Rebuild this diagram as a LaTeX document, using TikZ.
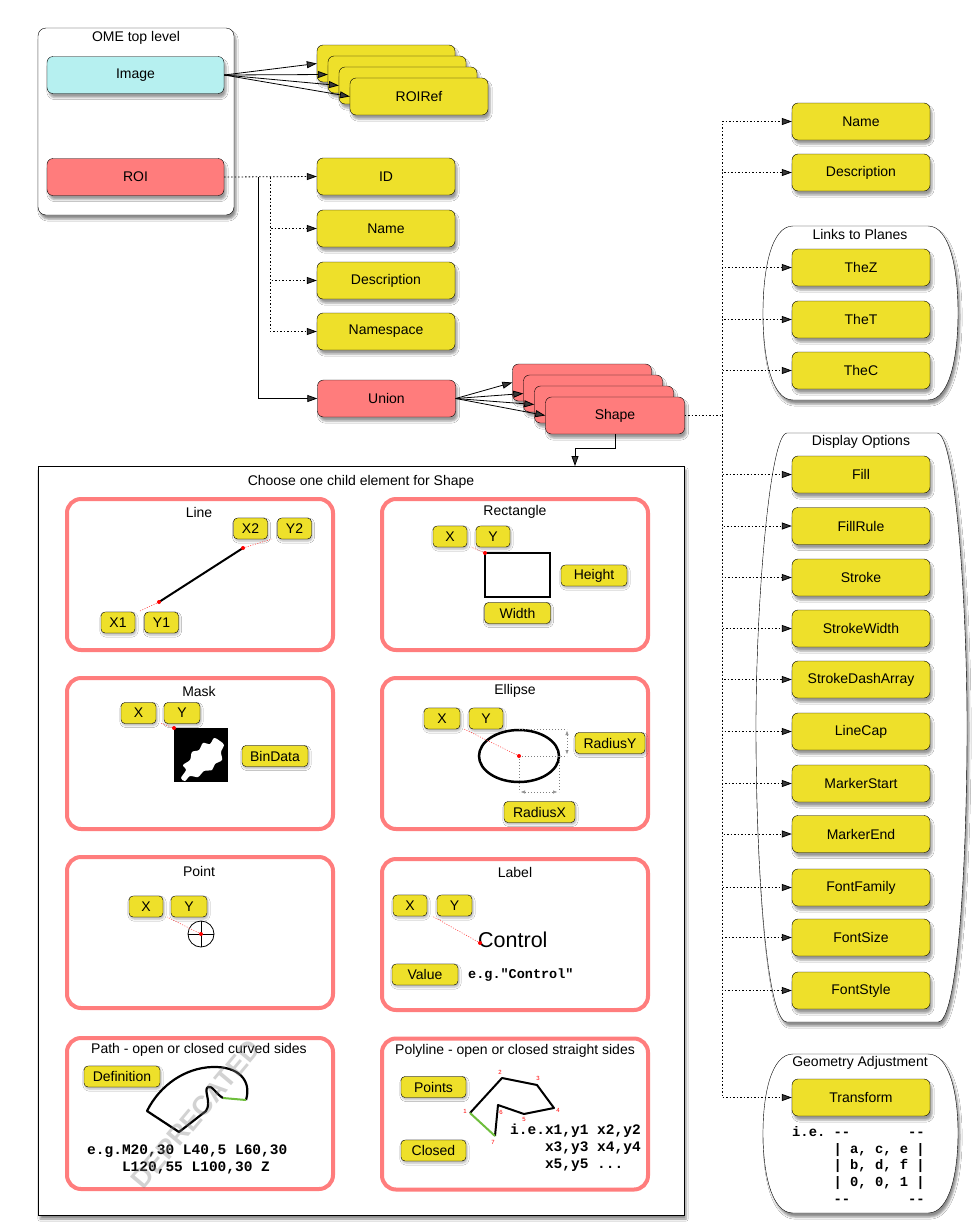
\documentclass[tikz,border=0pt]{standalone}
\usepackage{fontspec}
\setmainfont{Liberation Sans}
\setmonofont{Liberation Mono}
\usetikzlibrary{arrows.meta,shadows.blur}

\definecolor{omeYellow}{RGB}{238,224,42}
\definecolor{omeRed}{RGB}{255,124,124}
\definecolor{omeCyan}{RGB}{182,240,240}
\definecolor{panelRed}{RGB}{255,125,125}
\definecolor{pickRed}{RGB}{255,70,70}
\definecolor{okGreen}{RGB}{110,190,60}

\begin{document}
\begin{tikzpicture}[x=1pt, y=-1pt,
    elem/.style={rectangle, draw, rounded corners=6pt, minimum width=138pt, minimum height=37pt, inner sep=0pt, fill=omeYellow, font=\fontsize{14}{16}\selectfont, blur shadow={shadow xshift=2pt, shadow yshift=-4pt, shadow opacity=40}},
    complex/.style={elem, fill=omeRed},
    topimg/.style={elem, fill=omeCyan, minimum width=177pt},
    attr/.style={rectangle, draw, rounded corners=4pt, minimum width=34pt, minimum height=21pt, inner sep=0pt, fill=omeYellow, font=\fontsize{14}{16}\selectfont, blur shadow={shadow xshift=1pt, shadow yshift=-2pt, shadow opacity=30}},
    panel/.style={rectangle, draw=panelRed, line width=4pt, rounded corners=14pt, minimum width=266pt, minimum height=151pt, fill=white},
    group/.style={rectangle, draw, rounded corners=8pt, inner sep=0pt, fill=white, blur shadow={shadow xshift=2pt, shadow yshift=-4pt, shadow opacity=45}},
    grouptitle/.style={font=\fontsize{14}{16}\selectfont, inner sep=0pt},
    code/.style={align=left, inner sep=0pt, font=\fontsize{14.5}{17}\selectfont\ttfamily\bfseries},
    numlab/.style={text=red, inner sep=0pt, font=\fontsize{6}{7}\selectfont},
    arrow/.style={-{Triangle[length=10pt,width=7pt]}, line width=0.8pt},
    dotline/.style={line width=0.9pt, dash pattern=on 1.5pt off 2pt},
    dotarrow/.style={arrow, dash pattern=on 1.5pt off 2pt},
    pick/.style={draw=pickRed, line width=0.6pt, dash pattern=on 1pt off 1.5pt},
    dimline/.style={gray, line width=0.6pt, dash pattern=on 1pt off 2pt},
    dimtips/.style={{Triangle[open,length=4pt,width=3pt]}-{Triangle[open,length=4pt,width=3pt]}}
]
\fill[white] (0,0) rectangle (979,1232);
\useasboundingbox (0,0) rectangle (979,1232);

% OME top level
\node[group, minimum width=196pt, minimum height=187pt] (ome) at (136,121.5) {};
\node[grouptitle] (omeTitle) at (136,38) {OME top level};
\node[topimg] (image) at (135.5,75) {Image};
\node[complex, minimum width=177pt] (roi) at (135.5,177) {ROI};

% ROIRef stack
\node[elem] (roiref1) at (386,63.5) {};
\node[elem] (roiref2) at (397,74.5) {};
\node[elem] (roiref3) at (408,85.5) {};
\node[elem] (roiref4) at (419,96.5) {ROIRef};

% ROI children
\node[elem] (roiid) at (386,176.5) {ID};
\node[elem] (roiname) at (386,228.5) {Name};
\node[elem] (roidesc) at (386,280.5) {Description};
\node[elem] (roins) at (386,331.5) {Namespace};
\node[complex] (union) at (386.5,398.5) {Union};

% Shape stack
\node[complex, minimum width=139pt] (shape1) at (582,382.5) {};
\node[complex, minimum width=139pt] (shape2) at (593,393.5) {};
\node[complex, minimum width=139pt] (shape3) at (604,404.5) {};
\node[complex, minimum width=139pt] (shape4) at (615,415.5) {Shape};

% Right column groups
\draw[fill=white, blur shadow={shadow xshift=2pt, shadow yshift=-4pt, shadow opacity=45}] (793,226) -- (928,226) .. controls (950,226) and (958,270) .. (958,313) .. controls (958,356) and (950,400) .. (928,400) -- (793,400) .. controls (771,400) and (763,356) .. (763,313) .. controls (763,270) and (771,226) .. (793,226) -- cycle;
\node[grouptitle] (planesTitle) at (860,234) {Links to Planes};
\draw[fill=white, blur shadow={shadow xshift=2pt, shadow yshift=-4pt, shadow opacity=45}] (787,433) -- (937,433) .. controls (955,433) and (967,600) .. (967,727) .. controls (967,860) and (958,1022) .. (938,1022) -- (787,1022) .. controls (766,1022) and (756,860) .. (756,727) .. controls (756,600) and (770,433) .. (787,433) -- cycle;
\node[grouptitle] (displayTitle) at (861,442) {Display Options};
\draw[fill=white, blur shadow={shadow xshift=2pt, shadow yshift=-4pt, shadow opacity=45}] (793,1054) -- (928,1054) .. controls (950,1054) and (958,1095) .. (958,1133) .. controls (958,1172) and (950,1213) .. (928,1213) -- (793,1213) .. controls (771,1213) and (763,1172) .. (763,1133) .. controls (763,1095) and (771,1054) .. (793,1054) -- cycle;
\node[grouptitle] (geomTitle) at (860,1063) {Geometry Adjustment};

% Shape attributes (right column)
\node[elem] (shpname) at (861,121.5) {Name};
\node[elem] (shpdesc) at (861,172.5) {Description};
\node[elem] (thez) at (861,267.5) {TheZ};
\node[elem] (thet) at (861,319.5) {TheT};
\node[elem] (thec) at (861,370.5) {TheC};
\node[elem] (dofill) at (861,474.5) {Fill};
\node[elem] (dofillrule) at (861,526) {FillRule};
\node[elem] (dostroke) at (861,577.5) {Stroke};
\node[elem] (dostrokewidth) at (861,628.5) {StrokeWidth};
\node[elem] (dodash) at (861,679.5) {StrokeDashArray};
\node[elem] (dolinecap) at (861,731.5) {LineCap};
\node[elem] (domarkstart) at (861,783.5) {MarkerStart};
\node[elem] (domarkend) at (861,834) {MarkerEnd};
\node[elem] (dofontfamily) at (861,887.5) {FontFamily};
\node[elem] (dofontsize) at (861,937.5) {FontSize};
\node[elem] (dofontstyle) at (861,990.5) {FontStyle};
\node[elem] (transform) at (861,1097.5) {Transform};
\node[code, anchor=west, font=\fontsize{13.8}{16.7}\selectfont\ttfamily\bfseries] (matrix) at (792,1165) {i.e. -{}-\phantom{xxxxxxx}-{}-\\\phantom{i.e.x}| a, c, e |\\\phantom{i.e.x}| b, d, f |\\\phantom{i.e.x}| 0, 0, 1 |\\\phantom{i.e.x}-{}-\phantom{xxxxxxx}-{}-};

% Choice of shape
\node[group, rounded corners=0pt, minimum width=646pt, minimum height=749pt] (choice) at (361,840.5) {};
\node[grouptitle] (choiceTitle) at (361,482) {Choose one child element for Shape};

% Line
\node[panel] (pline) at (200,574.5) {};
\node[grouptitle] (plineTitle) at (199,512) {Line};
\node[attr] (linex2) at (250.5,528.5) {X2};
\node[attr] (liney2) at (294.5,528.5) {Y2};
\node[attr] (linex1) at (118,622.5) {X1};
\node[attr] (liney1) at (161.5,622.5) {Y1};
\coordinate (lineA) at (159,602);
\coordinate (lineB) at (243,548);
\coordinate (lineApick) at (140,611);
\coordinate (lineBpick) at (272,539);
\draw[line width=2pt] (lineA) -- (lineB);
\draw[pick] (lineA) -- (lineApick);
\draw[pick] (lineB) -- (lineBpick);
\fill[red] (lineA) circle (2pt);
\fill[red] (lineB) circle (2pt);

% Rectangle
\node[panel] (prect) at (515,574.5) {};
\node[grouptitle] (prectTitle) at (515,512) {Rectangle};
\node[attr] (rectx) at (450,536.5) {X};
\node[attr] (recty) at (493,536.5) {Y};
\node[attr, minimum width=66pt] (rectheight) at (594,575.5) {Height};
\node[attr, minimum width=66pt] (rectwidth) at (517.5,613) {Width};
\coordinate (rectO) at (485,553);
\coordinate (rectOpick) at (471,547);
\draw[line width=2pt] (rectO) rectangle (550,597);
\draw[pick] (rectO) -- (rectOpick);
\fill[red] (rectO) circle (2pt);

% Mask
\node[panel] (pmask) at (200,753.5) {};
\node[grouptitle] (pmaskTitle) at (199,691) {Mask};
\node[attr, minimum width=35pt] (maskx) at (138.5,713) {X};
\node[attr, minimum width=36pt] (masky) at (182,713) {Y};
\node[attr, minimum width=66pt] (maskbin) at (275,756) {BinData};
\coordinate (maskO) at (174,728);
\coordinate (maskOpick) at (160,723);
\fill[black] (maskO) rectangle (228,782);
\fill[white] plot[smooth cycle] coordinates {(181,778) (186,770) (183,765) (190,760) (192,752) (199,750) (203,743) (210,744) (214,738) (220,741) (224,745) (221,752) (222,760) (215,764) (212,770) (204,771) (198,777) (190,776) (185,781)};
\draw[pick] (maskO) -- (maskOpick);
\fill[red] (maskO) circle (2pt);

% Ellipse
\node[panel] (pellipse) at (515,753.5) {};
\node[grouptitle] (pellipseTitle) at (515,691) {Ellipse};
\node[attr, minimum width=36pt] (ellx) at (442,718.5) {X};
\node[attr] (elly) at (486,718.5) {Y};
\node[attr, minimum width=70pt] (ellry) at (610,743) {RadiusY};
\node[attr, minimum width=71pt] (ellrx) at (539.5,812) {RadiusX};
\coordinate (ellC) at (519,756);
\coordinate (ellCpick) at (464,729);
\draw[line width=2.5pt] (ellC) ellipse [x radius=40pt, y radius=26pt];
\draw[dimline] (519,729) -- (567,729);
\draw[dimline] (ellC) -- (567,756);
\draw[dimline, dimtips] (567,731) -- (567,754);
\draw[dimline] (ellC) -- (519,792);
\draw[dimline] (559,756) -- (559,792);
\draw[dimline, dimtips] (521,792) -- (557,792);
\draw[pick] (ellC) -- (ellCpick);
\fill[red] (ellC) circle (2pt);

% Point
\node[panel] (ppoint) at (200,932.5) {};
\node[grouptitle] (ppointTitle) at (199,871) {Point};
\node[attr] (pointx) at (146,906.5) {X};
\node[attr, minimum width=36pt] (pointy) at (189,906.5) {Y};
\coordinate (pointC) at (201,934);
\coordinate (pointCpick) at (167,917);
\draw[line width=0.8pt] (pointC) circle (13pt);
\draw[line width=0.8pt] (188,934) -- (214,934);
\draw[line width=0.8pt] (201,921) -- (201,947);
\draw[pick] (pointC) -- (pointCpick);
\fill[red] (pointC) circle (2pt);

% Label
\node[panel] (plabel) at (515,934.5) {};
\node[grouptitle] (plabelTitle) at (515,872) {Label};
\node[attr] (labelx) at (410,905.5) {X};
\node[attr, minimum width=35pt] (labely) at (454.5,905.5) {Y};
\node[attr, minimum width=66pt] (labelvalue) at (425,974.5) {Value};
\node[anchor=base west, inner sep=0pt, font=\fontsize{21.5}{24}\selectfont] (labeltext) at (478,947) {Control};
\node[code, anchor=west, font=\fontsize{13.5}{16}\selectfont\ttfamily\bfseries] (labeleg) at (468,975) {e.g."Control"};
\coordinate (labelO) at (480,943);
\coordinate (labelOpick) at (432,916);
\draw[pick] (labelO) -- (labelOpick);
\fill[red] (labelO) circle (2pt);

% Path
\node[panel] (ppath) at (200,1113.5) {};
\node[grouptitle] (ppathTitle) at (199,1050) {Path - open or closed curved sides};
\node[attr, minimum width=76pt] (pathdef) at (122,1076.5) {Definition};
\coordinate (pa1) at (147,1111);
\coordinate (pa2) at (179,1132);
\coordinate (pa3) at (206,1111);
\coordinate (pa4) at (223,1098);
\coordinate (pa5) at (246,1100);
\draw[line width=2.2pt, line join=round] (pa5) .. controls (252,1080) and (238,1066) .. (212,1067) .. controls (185,1068) and (160,1085) .. (pa1) -- (pa2) -- (pa3) .. controls (212,1102) and (203,1090) .. (208,1087) .. controls (212,1085) and (216,1094) .. (pa4);
\draw[okGreen, line width=2pt] (pa4) -- (pa5);
\node[code, anchor=west] (pathcode) at (87,1159.5) {e.g.M20,30 L40,5 L60,30\\\phantom{e.g.}L120,55 L100,30 Z};

% Polyline
\node[panel] (ppoly) at (515,1114) {};
\node[grouptitle] (ppolyTitle) at (515,1051) {Polyline - open or closed straight sides};
\node[attr, minimum width=65pt] (polypoints) at (433.5,1087) {Points};
\node[attr, minimum width=65pt] (polyclosed) at (433.5,1150.5) {Closed};
\coordinate (pl1) at (470,1113);
\coordinate (pl2) at (502,1078);
\coordinate (pl3) at (537,1085);
\coordinate (pl4) at (554,1108);
\coordinate (pl5) at (524,1114);
\coordinate (pl6) at (498,1105);
\coordinate (pl7) at (495,1136);
\draw[line width=2pt, line join=round] (pl1) -- (pl2) -- (pl3) -- (pl4) -- (pl5) -- (pl6) -- (pl7);
\draw[okGreen, line width=2pt] (pl7) -- (pl1);
\node[numlab] (pl1lab) at (465,1111) {1};
\node[numlab] (pl2lab) at (500,1072) {2};
\node[numlab] (pl3lab) at (538,1078) {3};
\node[numlab] (pl4lab) at (558,1110) {4};
\node[numlab] (pl5lab) at (524,1119) {5};
\node[numlab] (pl6lab) at (501,1112) {6};
\node[numlab] (pl7lab) at (493,1142) {7};
\node[code, anchor=west] (polycode) at (510,1148) {i.e.x1,y1 x2,y2\\\phantom{i.e.}x3,y3 x4,y4\\\phantom{i.e.}x5,y5 ...};

% Image to ROIRef
\draw[arrow] (image.east) -- (roiref1.west);
\draw[arrow] (image.east) -- (roiref2.west);
\draw[arrow] (image.east) -- (roiref3.west);
\draw[arrow] (image.east) -- (roiref4.west);

% ROI to its children
\coordinate (roitrunk) at (258,177);
\coordinate (roibus) at (270,177);
\draw[dotarrow] (roi.east) -- (roiid.west);
\draw[dotarrow] (roibus) |- (roiname.west);
\draw[dotarrow] (roibus) |- (roidesc.west);
\draw[dotarrow] (roibus) |- (roins.west);
\draw[arrow] (roitrunk) |- (union.west);

% Union to Shape
\draw[arrow] (union.east) -- (shape1.west);
\draw[arrow] (union.east) -- (shape2.west);
\draw[arrow] (union.east) -- (shape3.west);
\draw[arrow] (union.east) -- (shape4.west);

% Shape to the choice of child
\coordinate (choicein) at (575,466);
\draw[arrow] (shape4.south) -- ++(0,14) -| (choicein);

% Shape to its attributes
\coordinate (shapebus) at (722,415.5);
\draw[dotline] (shape4.east) -- (shapebus);
\draw[dotarrow] (shapebus) |- (shpname.west);
\draw[dotarrow] (shapebus) |- (shpdesc.west);
\draw[dotarrow] (shapebus) |- (thez.west);
\draw[dotarrow] (shapebus) |- (thet.west);
\draw[dotarrow] (shapebus) |- (thec.west);
\draw[dotarrow] (shapebus) |- (dofill.west);
\draw[dotarrow] (shapebus) |- (dofillrule.west);
\draw[dotarrow] (shapebus) |- (dostroke.west);
\draw[dotarrow] (shapebus) |- (dostrokewidth.west);
\draw[dotarrow] (shapebus) |- (dodash.west);
\draw[dotarrow] (shapebus) |- (dolinecap.west);
\draw[dotarrow] (shapebus) |- (domarkstart.west);
\draw[dotarrow] (shapebus) |- (domarkend.west);
\draw[dotarrow] (shapebus) |- (dofontfamily.west);
\draw[dotarrow] (shapebus) |- (dofontsize.west);
\draw[dotarrow] (shapebus) |- (dofontstyle.west);
\draw[dotarrow] (shapebus) |- (transform.west);

% Deprecated stamp
\node[rotate=50, text=gray, opacity=0.35, inner sep=0pt, font=\fontsize{27}{30}\selectfont\bfseries] (deprecated) at (196,1114) {DEPRECATED};

\end{tikzpicture}
\end{document}
